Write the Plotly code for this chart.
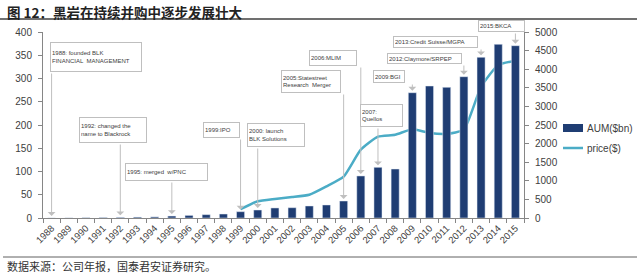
import plotly.graph_objects as go

years = list(range(1988, 2016))
aum = [1, 3, 9, 14, 17, 24, 30, 53, 70, 90, 107,
       170, 215, 270, 277, 323, 350, 457, 1130, 1363, 1317,
       3368, 3548, 3513, 3798, 4320, 4669, 4632]
price_years = list(range(1999, 2016))
price = [19, 36, 41, 45, 50, 68, 89, 147, 175, 179, 191, 183, 181, 190, 282, 329, 338]

events = [
    (1988, "1988: founded BLK<br>FINANCIAL  MANAGEMENT"),
    (1992, "1992: changed the<br>name to Blackrock"),
    (1995, "1995: merged  w/PNC"),
    (1999, "1999:IPO"),
    (2000, "2000: launch<br>BLK Solutions"),
    (2005, "2005:Statestreet<br>Research  Merger"),
    (2006, "2006:MLIM"),
    (2007, "2007:<br>Quellos"),
    (2009, "2009:BGI"),
    (2012, "2012:Claymore/SRPEP"),
    (2013, "2013:Credit Suisse/MGPA"),
    (2015, "2015:BKCA"),
]
# box layout in pixels: left, top, right, bottom
boxes = {
    1988: (50, 42, 142, 72),
    1992: (79, 117, 147, 143),
    1995: (125, 163, 208, 181),
    1999: (203, 122, 240, 138),
    2000: (247, 123, 305, 147),
    2005: (281, 70, 341, 93),
    2006: (309, 50, 357, 66),
    2007: (360, 104, 403, 127),
    2009: (373, 70, 405, 83),
    2012: (387, 53, 462, 64),
    2013: (393, 36, 478, 48),
    2015: (478, 20, 525, 32),
}

L, R, T, B = 43, 524, 32, 218
W, H = 640, 274


def px2x(px):
    return (px - L) / (R - L)


def py2y(py):
    return (B - py) / (B - T)


def py2aum(py):
    return (B - py) / (B - T) * 5000


fig = go.Figure()
fig.add_trace(go.Bar(x=years, y=aum, yaxis="y2", marker_color="#1F3D73",
                     width=0.47, name="AUM($bn)", showlegend=False))
fig.add_trace(go.Scatter(x=price_years, y=price, yaxis="y", mode="lines",
                         line=dict(color="#4BACC6", width=2.5, shape="spline", smoothing=0.5),
                         name="price($)", showlegend=False))

annotations = []
aum_map = dict(zip(years, aum))
for yr, txt in events:
    l, t, r, b = boxes[yr]
    annotations.append(dict(
        xref="paper", yref="paper", x=px2x(l), y=py2y(t), xanchor="left", yanchor="top",
        text=txt, showarrow=False, align="left", valign="middle",
        width=r - l - 4, height=b - t - 4, borderpad=1, bordercolor="#BFBFBF",
        borderwidth=1, bgcolor="white",
        font=dict(family="Liberation Sans", size=6, color="#404040")))
    annotations.append(dict(
        xref="x", yref="y2", axref="x", ayref="y2", x=yr, y=aum_map[yr],
        ax=yr, ay=py2aum(b), text="", showarrow=True, arrowhead=1, arrowsize=1.3,
        arrowwidth=1, arrowcolor="#BFBFBF", standoff=2))

annotations.append(dict(xref="paper", yref="paper", x=px2x(5), y=py2y(12),
                        xanchor="left", yanchor="middle", showarrow=False,
                        text="<b>图 12：黑岩在持续并购中逐步发展壮大</b>",
                        font=dict(family="Noto Sans CJK SC", size=13.5, color="#222222")))
annotations.append(dict(xref="paper", yref="paper", x=px2x(5), y=py2y(266),
                        xanchor="left", yanchor="middle", showarrow=False,
                        text="数据来源：公司年报，国泰君安证券研究。",
                        font=dict(family="Noto Sans CJK SC", size=11, color="#333333")))
annotations.append(dict(xref="paper", yref="paper", x=px2x(585), y=py2y(128),
                        xanchor="left", yanchor="middle", showarrow=False, text="AUM($bn)",
                        font=dict(family="Liberation Sans", size=10, color="#404040")))
annotations.append(dict(xref="paper", yref="paper", x=px2x(585), y=py2y(148),
                        xanchor="left", yanchor="middle", showarrow=False, text="price($)",
                        font=dict(family="Liberation Sans", size=10, color="#404040")))

shapes = [
    dict(type="line", xref="paper", yref="paper", x0=px2x(0), x1=px2x(637),
         y0=py2y(19), y1=py2y(19), line=dict(color="#404040", width=1.5)),
    dict(type="line", xref="paper", yref="paper", x0=px2x(3), x1=px2x(637),
         y0=py2y(257), y1=py2y(257), line=dict(color="#606060", width=1)),
    dict(type="rect", xref="paper", yref="paper", x0=px2x(563), x1=px2x(583),
         y0=py2y(132), y1=py2y(124), line=dict(width=0), fillcolor="#1F3D73"),
    dict(type="line", xref="paper", yref="paper", x0=px2x(563), x1=px2x(583),
         y0=py2y(148), y1=py2y(148), line=dict(color="#4BACC6", width=2.5)),
]

axis_font = dict(family="Liberation Sans", size=10, color="#404040")
fig.update_layout(
    width=W, height=H, margin=dict(l=L, r=W - R, t=T, b=H - B),
    paper_bgcolor="white", plot_bgcolor="white", showlegend=False,
    bargap=0.5,
    xaxis=dict(range=[1987.5, 2015.5], tickvals=years, ticktext=[str(y) for y in years],
               tickangle=-45, ticks="", showline=True, linecolor="#868686",
               showgrid=False, zeroline=False, tickfont=dict(family="Liberation Sans", size=9.5, color="#404040"),
               minor=dict(tickvals=[y + 0.5 for y in [1987] + years], ticks="outside",
                          ticklen=4, tickcolor="#868686", showgrid=False)),
    yaxis=dict(range=[0, 400], dtick=50, showline=True, linecolor="#868686",
               ticks="outside", ticklen=4, tickcolor="#868686", showgrid=False,
               zeroline=False, tickfont=axis_font, ticklabelstandoff=4),
    yaxis2=dict(range=[0, 5000], dtick=500, overlaying="y", side="right",
                showline=True, linecolor="#868686", ticks="outside", ticklen=4,
                tickcolor="#868686", showgrid=False, zeroline=False, tickfont=axis_font,
                ticklabelstandoff=4),
    annotations=annotations, shapes=shapes,
)
fig.write_html("out.html")
